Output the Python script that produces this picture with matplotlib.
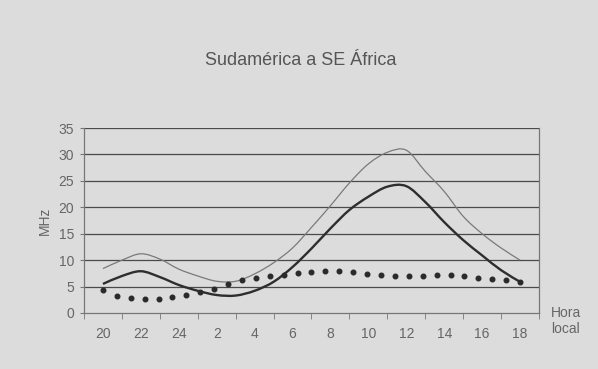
import numpy as np
import matplotlib
matplotlib.use("Agg")
import matplotlib.pyplot as plt
from matplotlib.path import Path
from matplotlib.patches import PathPatch

plt.rcParams['font.family'] = ['Liberation Sans', 'DejaVu Sans']

# Data (hours since 20h local)
hour_labels = ["20", "22", "24", "2", "4", "6", "8", "10", "12", "14", "16", "18"]
hours = list(range(23))
upper_mhz = [8.4, 10.0, 11.2, 10.2, 8.3, 7.0, 6.0, 6.0, 7.4, 9.5, 12.3, 16.2,
             20.3, 24.6, 28.2, 30.4, 30.8, 26.8, 23.0, 18.3, 15.0, 12.3, 10.0]
main_mhz = [5.5, 7.0, 7.9, 6.8, 5.3, 4.2, 3.4, 3.3, 4.2, 5.9, 8.7, 12.2,
            16.0, 19.5, 22.0, 23.9, 24.0, 21.0, 17.2, 13.8, 10.9, 8.1, 5.9]
lower_mhz = [4.3, 3.3, 2.85, 2.7, 2.6, 3.0, 3.4, 3.9, 4.6, 5.4, 6.2, 6.65, 7.0,
             7.15, 7.5, 7.7, 7.85, 7.85, 7.7, 7.35, 7.1, 7.0, 7.0, 7.0, 7.15,
             7.15, 7.0, 6.7, 6.4, 6.15, 5.8]
lower_hours = np.linspace(0, 22, len(lower_mhz))
y_ticks = [0, 5, 10, 15, 20, 25, 30, 35]


def smooth_path(xs, ys):
    """Excel-like smoothed line: Catmull-Rom segments drawn as cubic Beziers."""
    xs = np.asarray(xs, float)
    ys = np.asarray(ys, float)
    n = len(xs)
    verts = [(xs[0], ys[0])]
    codes = [Path.MOVETO]
    for i in range(n - 1):
        p0 = np.array([xs[max(i - 1, 0)], ys[max(i - 1, 0)]])
        p1 = np.array([xs[i], ys[i]])
        p2 = np.array([xs[i + 1], ys[i + 1]])
        p3 = np.array([xs[min(i + 2, n - 1)], ys[min(i + 2, n - 1)]])
        c1 = p1 + (p2 - p0) / 6.0
        c2 = p2 - (p3 - p1) / 6.0
        verts += [tuple(c1), tuple(c2), tuple(p2)]
        codes += [Path.CURVE4] * 3
    return Path(verts, codes)


bg = "#dcdcdc"
fig = plt.figure(figsize=(5.98, 3.69), dpi=100, facecolor=bg)
ax = fig.add_axes([0.1405, 0.1518, 0.7608, 0.5013])
ax.set_facecolor(bg)

for v in y_ticks[1:]:
    ax.axhline(v, color="#4a4a4a", lw=0.9, zorder=1)

ax.add_patch(PathPatch(smooth_path(hours, upper_mhz), fill=False,
                       edgecolor="#7a7a7a", lw=0.9, zorder=3))
ax.add_patch(PathPatch(smooth_path(hours, main_mhz), fill=False,
                       edgecolor="#2e2e2e", lw=1.7, zorder=4))
ax.plot(lower_hours, lower_mhz, linestyle="none", marker="o", ms=3.3,
        color="#2a2a2a", zorder=5)

ax.set_xlim(-1, 23)
ax.set_ylim(0, 35)
ax.set_yticks(y_ticks)
ax.set_yticklabels([str(v) for v in y_ticks])
ax.set_xticks([2 * i for i in range(12)])
ax.set_xticklabels(hour_labels)
ax.set_xticks([2 * i - 1 for i in range(13)], minor=True)
ax.tick_params(axis="x", which="major", length=0, pad=10, labelsize=10, labelcolor="#666666")
ax.tick_params(axis="x", which="minor", length=4, color="#777777", direction="out")
ax.tick_params(axis="y", length=3, color="#777777", labelsize=10, labelcolor="#666666", pad=4)

ax.spines["top"].set_visible(False)
for s in ["left", "bottom", "right"]:
    ax.spines[s].set_color("#777777")
    ax.spines[s].set_linewidth(0.9)

ax.set_ylabel("MHz", color="#666666", fontsize=10, labelpad=5)
fig.text(0.502, 0.836, "Sudamérica a SE África", ha="center", va="center",
         fontsize=13, color="#555555")
fig.text(0.946, 0.13, "Hora\nlocal", ha="center", va="center", fontsize=10,
         color="#666666", linespacing=1.15)

fig.savefig("out.png", dpi=100, facecolor=bg)
